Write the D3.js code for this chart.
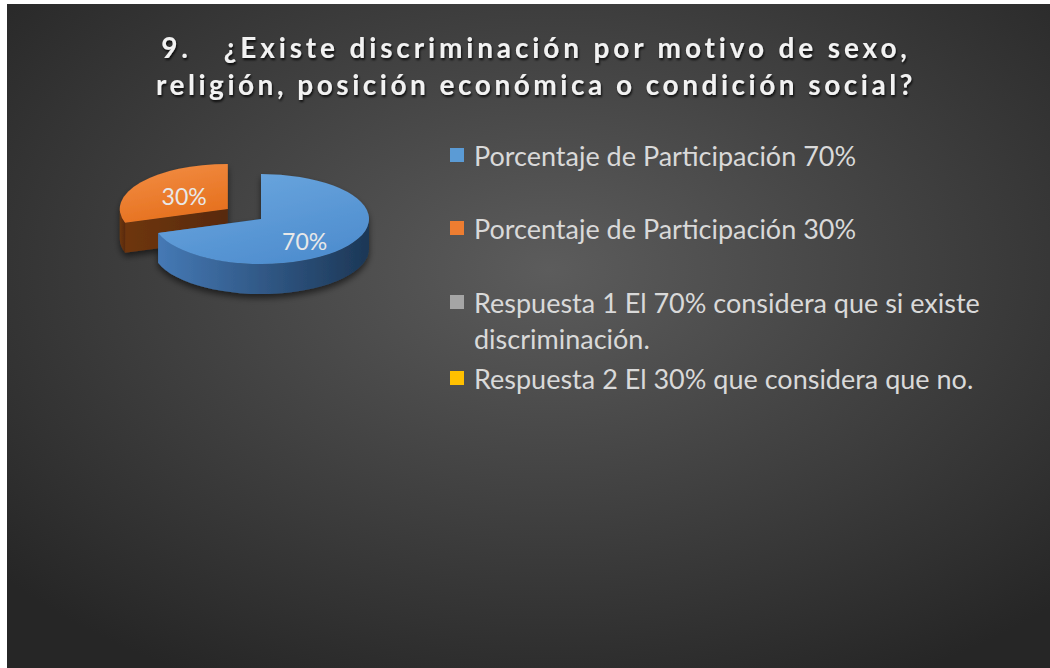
<!DOCTYPE html>
<html lang="es">
<head>
<meta charset="UTF-8">
<title>Discriminación</title>
<script src="https://d3js.org/d3.v7.min.js"></script>
<style>
  body { margin: 0; background: #ffffff; }
  svg { display: block; }
</style>
</head>
<body>
<svg width="1050" height="668"></svg>
<script>
// data
let titleLines = ['9.   ¿Existe discriminación por motivo de sexo,', 'religión, posición económica o condición social?'];
let categories = ['Porcentaje de Participación 70%', 'Porcentaje de Participación 30%',
                  'Respuesta 1 El 70% considera que si existe discriminación.', 'Respuesta 2 El 30% que considera que no.'];
let values = [70, 30, 0, 0];
let sliceLabels = ['70%', '30%', '', ''];
let colors = ['#5b9bd5', '#ed7d31', '#a5a5a5', '#ffc000'];

let svg = d3.select('svg');
let defs = svg.append('defs');

// background
let bg = defs.append('radialGradient').attr('id', 'bg')
  .attr('cx', '52%').attr('cy', '40%').attr('r', '70%');
bg.append('stop').attr('offset', '0%').attr('stop-color', '#5c5c5c');
bg.append('stop').attr('offset', '100%').attr('stop-color', '#262626');
svg.append('rect').attr('x', 7).attr('y', 4).attr('width', 1043).attr('height', 664).attr('fill', 'url(#bg)');

// gradients for pie
function linGrad(id, x1, y1, x2, y2, c1, c2) {
  let g = defs.append('linearGradient').attr('id', id)
    .attr('x1', x1).attr('y1', y1).attr('x2', x2).attr('y2', y2);
  g.append('stop').attr('offset', '0%').attr('stop-color', c1);
  g.append('stop').attr('offset', '100%').attr('stop-color', c2);
}
linGrad('topBlue', '0%', '0%', '60%', '100%', '#6ea9e0', '#4f8ecf');
linGrad('sideBlue', '0%', '0%', '100%', '0%', '#4579b5', '#1c3756');
linGrad('topOrange', '0%', '0%', '40%', '100%', '#f38f46', '#e6711f');
linGrad('sideOrange', '0%', '0%', '100%', '0%', '#6e3611', '#58290a');
let tops = ['url(#topBlue)', 'url(#topOrange)'];
let sides = ['url(#sideBlue)', 'url(#sideOrange)'];

let shadow = defs.append('filter').attr('id', 'shadow').attr('x', '-20%').attr('y', '-20%').attr('width', '140%').attr('height', '160%');
shadow.append('feDropShadow').attr('dx', 0).attr('dy', 4).attr('stdDeviation', 3)
  .attr('flood-color', '#000').attr('flood-opacity', 0.55);

let txtShadow = defs.append('filter').attr('id', 'tshadow');
txtShadow.append('feDropShadow').attr('dx', 1).attr('dy', 2).attr('stdDeviation', 1.2)
  .attr('flood-color', '#000').attr('flood-opacity', 0.8);

// title, spaced out to the width of the original lines
let titleWidth = [750, 760];
svg.append('g').attr('filter', 'url(#tshadow)')
  .selectAll('text').data(titleLines).join('text')
  .attr('x', 536).attr('y', (d, i) => 58 + i * 37)
  .attr('text-anchor', 'middle')
  .style('white-space', 'pre')
  .attr('font-family', 'Lato, sans-serif').attr('font-weight', 'bold')
  .attr('font-size', 28)
  .attr('fill', '#f2f2f2')
  .text(d => d)
  .each(function (d, i) {
    let w = this.getComputedTextLength();
    d3.select(this).attr('letter-spacing', Math.max(0, (titleWidth[i] - w) / d.length));
  });

// 3D pie
let cx = 261, cy = 219, rx = 108, ry = 45, depth = 30;
let pie = d3.pie().sort(null).value(d => d);
let arcs = pie(values).filter(d => d.value > 0);

function pt(a, r, o) {
  return [o[0] + r * rx * Math.sin(a), o[1] - r * ry * Math.cos(a)];
}
function topPath(d, o) {
  let p0 = pt(d.startAngle, 1, o), p1 = pt(d.endAngle, 1, o);
  let large = d.endAngle - d.startAngle > Math.PI ? 1 : 0;
  return `M${o[0]},${o[1]}L${p0}A${rx},${ry} 0 ${large} 1 ${p1}Z`;
}
function wallPath(d, o) {
  let b0 = Math.max(d.startAngle, Math.PI / 2), b1 = Math.min(d.endAngle, 3 * Math.PI / 2);
  if (b1 <= b0) return null;
  let p0 = pt(b0, 1, o), p1 = pt(b1, 1, o);
  return `M${p0}A${rx},${ry} 0 0 1 ${p1}L${p1[0]},${p1[1] + depth}A${rx},${ry} 0 0 0 ${p0[0]},${p0[1] + depth}Z`;
}
function facePath(a, o) {
  let p = pt(a, 1, o);
  return `M${o[0]},${o[1]}L${p}L${p[0]},${p[1] + depth}L${o[0]},${o[1] + depth}Z`;
}

let explode = [0, 0.38];
let offsets = arcs.map((d, i) => {
  let m = (d.startAngle + d.endAngle) / 2;
  return [cx + explode[i] * rx * Math.sin(m), cy - explode[i] * ry * Math.cos(m)];
});

let pieG = svg.append('g').attr('filter', 'url(#shadow)');
// draw back slice (orange) first
[1, 0].forEach(i => {
  let d = arcs[i], o = offsets[i];
  let g = pieG.append('g');
  g.append('path').attr('d', facePath(d.startAngle, o)).attr('fill', sides[i]);
  g.append('path').attr('d', facePath(d.endAngle, o)).attr('fill', sides[i]);
  let w = wallPath(d, o);
  if (w) g.append('path').attr('d', w).attr('fill', sides[i]);
  g.append('path').attr('d', topPath(d, o)).attr('fill', tops[i]);
});

svg.append('g').selectAll('text').data(arcs).join('text')
  .attr('x', (d, i) => pt((d.startAngle + d.endAngle) / 2, 0.5, offsets[i])[0])
  .attr('y', (d, i) => pt((d.startAngle + d.endAngle) / 2, 0.5, offsets[i])[1] + (i === 0 ? 9 : 0))
  .attr('text-anchor', 'middle').attr('dominant-baseline', 'central')
  .attr('font-family', 'Lato, sans-serif').attr('font-size', 23)
  .attr('fill', '#e8e8e8')
  .text((d, i) => sliceLabels[i]);

// legend
let legendX = 450, maxW = 520;
let legendY = [155, 228, 302, 378];
let leg = svg.append('g').selectAll('g').data(categories).join('g')
  .attr('transform', (d, i) => `translate(${legendX},${legendY[i]})`);
leg.append('rect').attr('x', 0).attr('y', -7).attr('width', 14).attr('height', 14)
  .attr('fill', (d, i) => colors[i]);
leg.append('text')
  .attr('x', 24).attr('y', 0).attr('dominant-baseline', 'central')
  .attr('font-family', 'Lato, sans-serif').attr('font-size', 27)
  .attr('fill', '#d9d9d9')
  .each(function (d) {
    let t = d3.select(this);
    let words = d.split(' '), line = [];
    let ts = t.append('tspan').attr('x', 24).attr('dy', 0);
    words.forEach(w => {
      line.push(w);
      ts.text(line.join(' '));
      if (ts.node().getComputedTextLength() > maxW && line.length > 1) {
        line.pop();
        ts.text(line.join(' '));
        line = [w];
        ts = t.append('tspan').attr('x', 24).attr('dy', 36).text(w);
      }
    });
  });
</script>
</body>
</html>
